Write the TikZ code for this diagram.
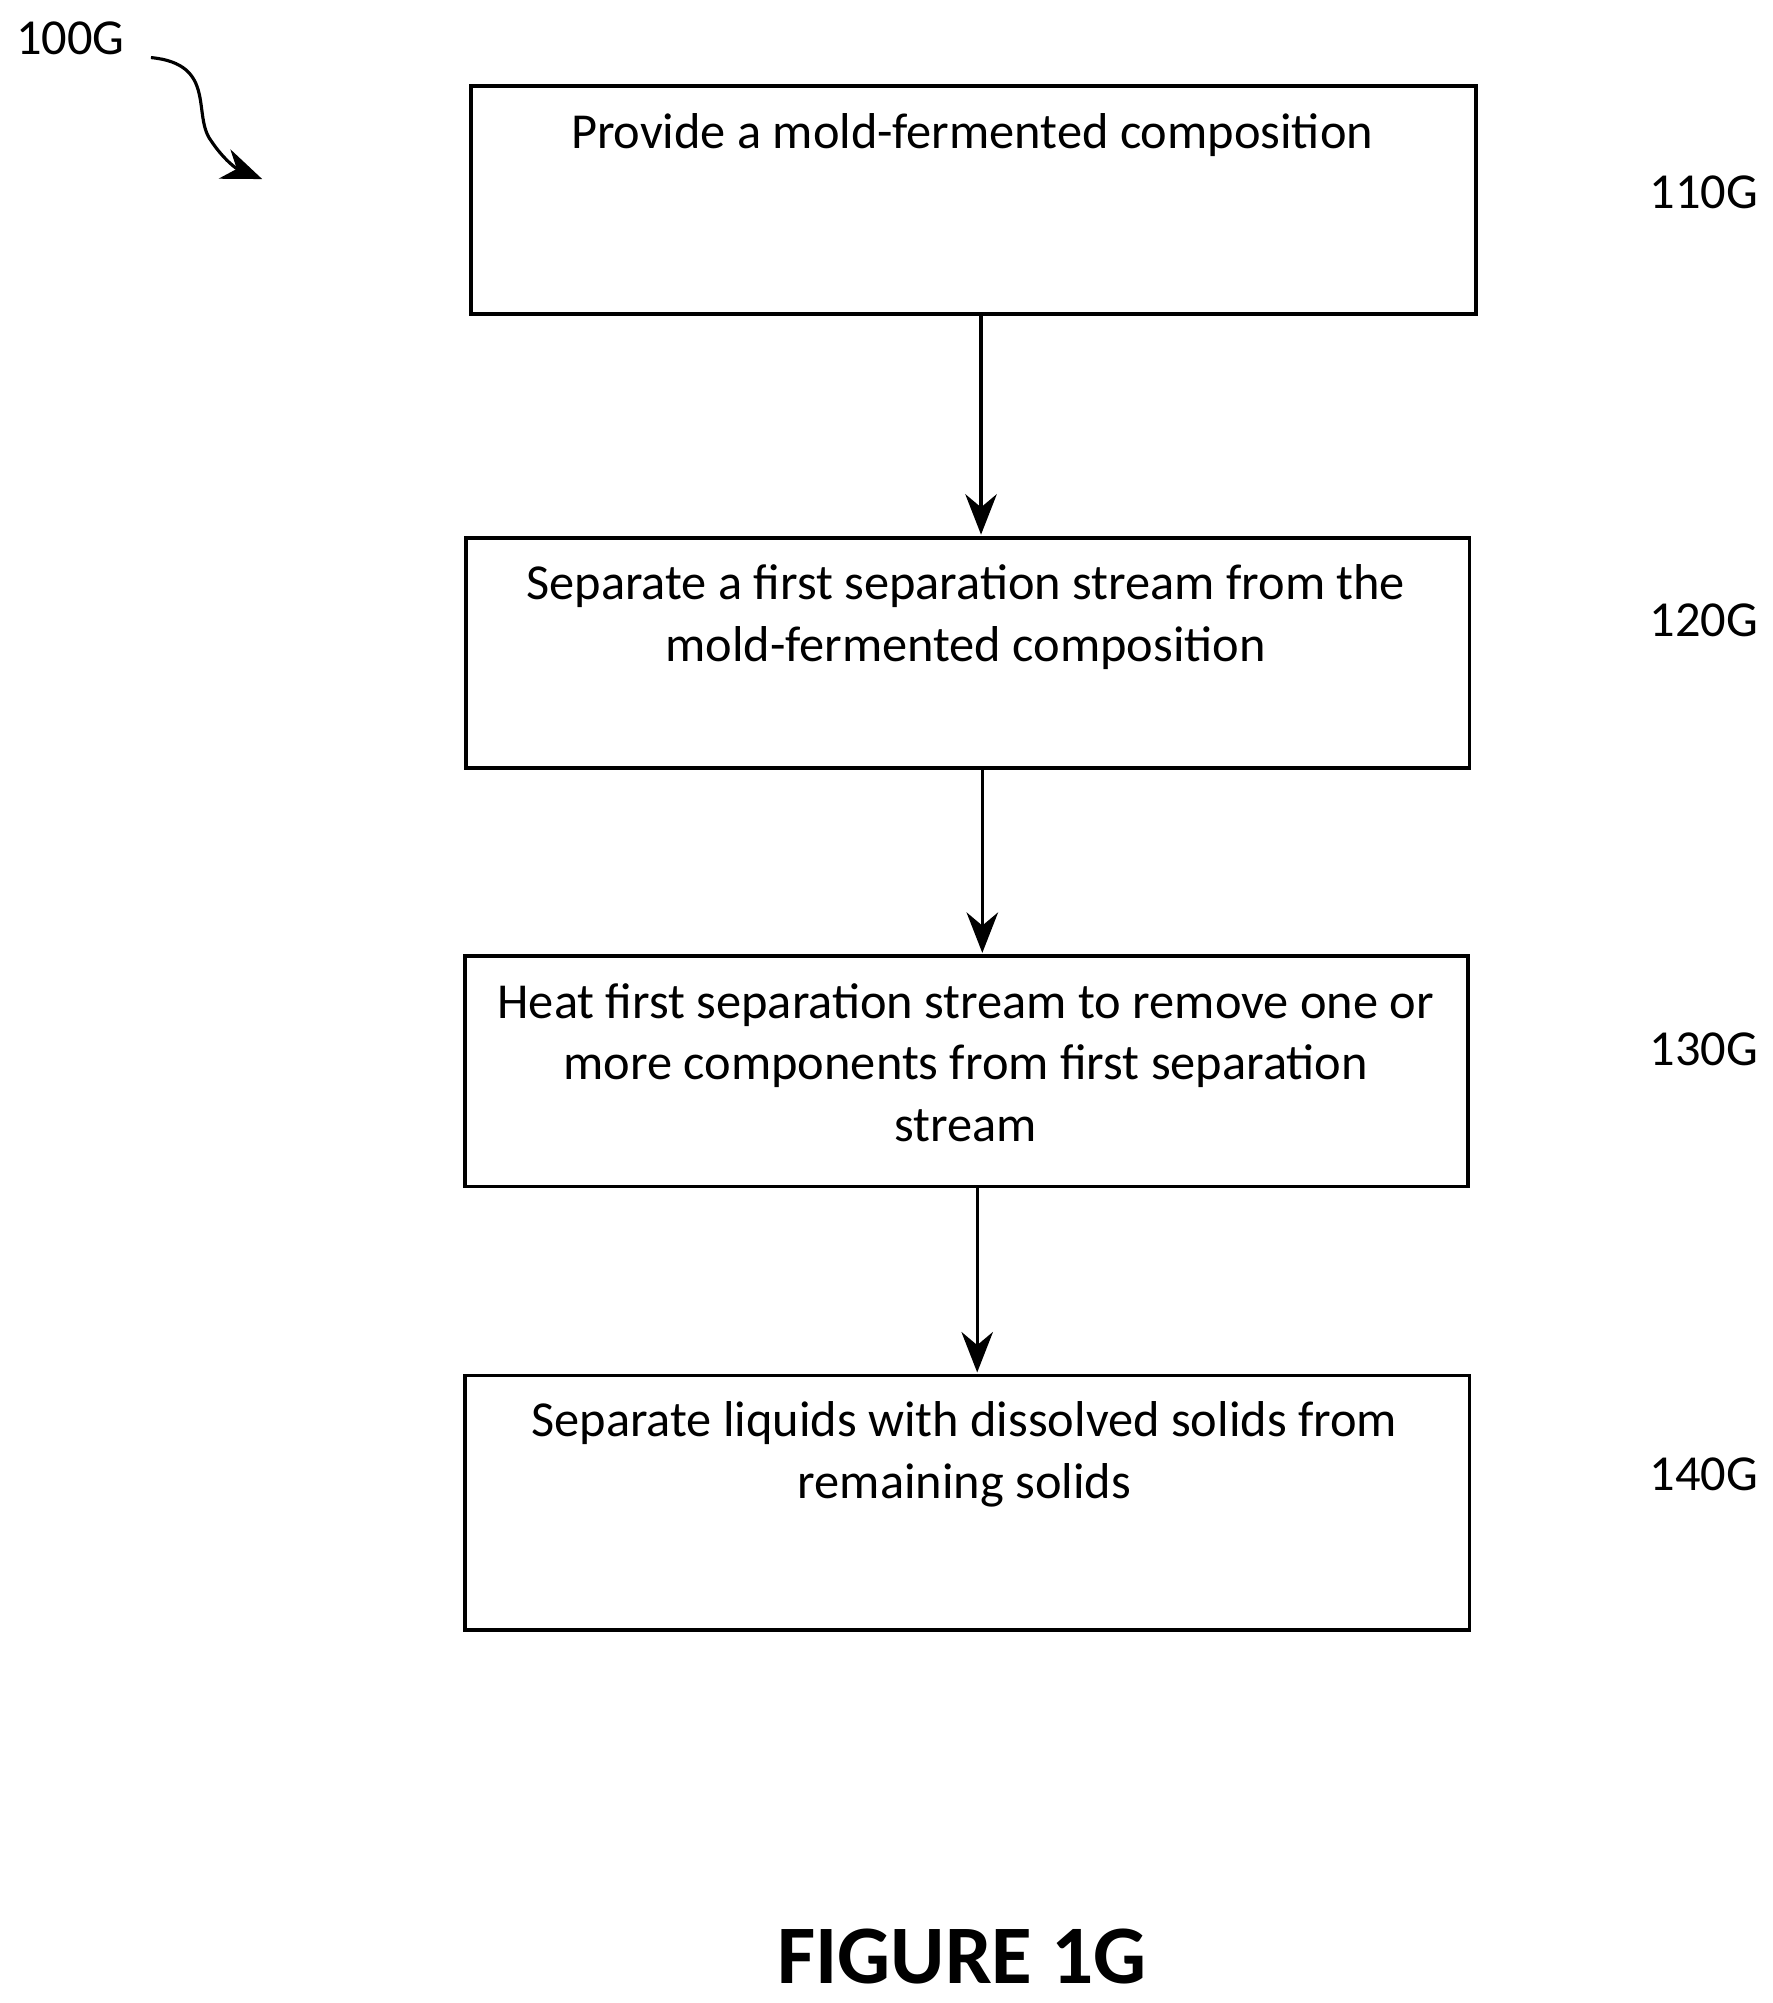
\documentclass[tikz,border=0pt]{standalone}
\usepackage{fontspec}
\setmainfont{Carlito}
\usetikzlibrary{arrows.meta}
\begin{document}
\begin{tikzpicture}[x=0.01cm,y=-0.01cm,
  box/.style={draw,line width=0.8pt,rectangle,inner sep=0pt},
  txt/.style={align=center,font=\fontsize{11.2}{13.7}\selectfont,inner sep=0pt},
  lab/.style={font=\fontsize{11.2}{13.7}\selectfont,inner sep=0pt},
  arr/.style={-{Stealth[length=9pt,width=7pt]},line width=0.7pt}]
\useasboundingbox (0,0) rectangle (1386,1566);
\node[box,minimum width=7.85cm,minimum height=1.78cm,anchor=north west] (b1) at (367,66) {};
\node[box,minimum width=7.84cm,minimum height=1.80cm,anchor=north west] (b2) at (363,419) {};
\node[box,minimum width=7.84cm,minimum height=1.80cm,anchor=north west] (b3) at (362,746) {};
\node[box,minimum width=7.85cm,minimum height=1.99cm,anchor=north west] (b4) at (362,1074) {};
\node[txt,anchor=north] (t1) at (760,88) {Provide a mold-fermented composition};
\node[txt,anchor=north] (t2) at (755,441) {Separate a first separation stream from the\\mold-fermented composition};
\node[txt,anchor=north] (t3) at (755,768) {Heat first separation stream to remove one or\\more components from first separation\\stream};
\node[txt,anchor=north] (t4) at (754,1095) {Separate liquids with dissolved solids from\\remaining solids};
\coordinate (a1s) at (767,245); \coordinate (a1e) at (767,418);
\coordinate (a2s) at (768,600); \coordinate (a2e) at (768,745);
\coordinate (a3s) at (764,927); \coordinate (a3e) at (764,1073);
\draw[arr] (a1s) -- (a1e);
\draw[arr] (a2s) -- (a2e);
\draw[arr] (a3s) -- (a3e);
\node[lab] (l1) at (1332,150) {110G};
\node[lab] (l2) at (1332,485) {120G};
\node[lab] (l3) at (1332,820) {130G};
\node[lab] (l4) at (1332,1153) {140G};
\node[lab] (l0) at (55,30) {100G};
\coordinate (c0) at (118,45); \coordinate (c1) at (205,140);
\draw[arr] (c0) .. controls (170,50) and (150,90) .. (165,110) .. controls (175,125) and (185,132) .. (c1);
\node[font=\fontsize{18.5}{22}\selectfont\bfseries,inner sep=0pt] (fig) at (752,1530) {FIGURE 1G};
\end{tikzpicture}
\end{document}
